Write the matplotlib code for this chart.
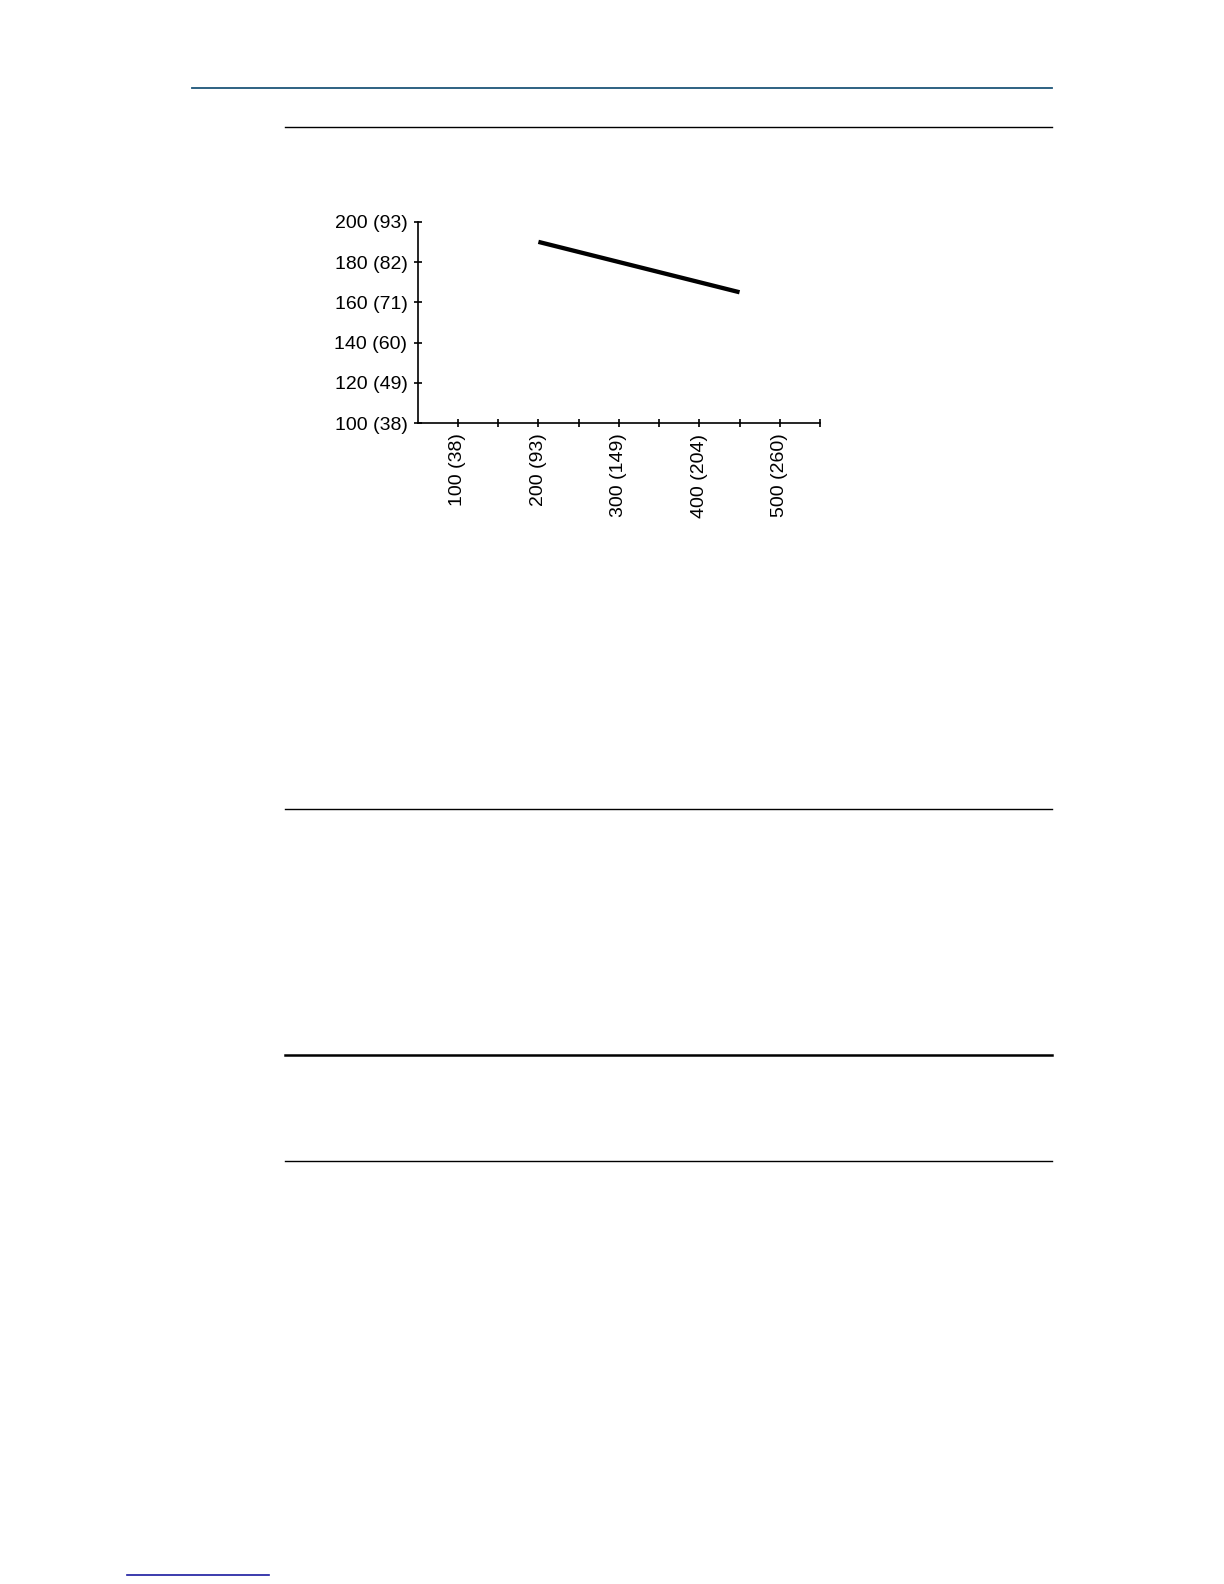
import matplotlib
matplotlib.use("Agg")
import matplotlib.pyplot as plt
from matplotlib.lines import Line2D

plt.rcParams['font.family'] = ['Liberation Sans', 'DejaVu Sans']

# data (deg F with deg C in brackets)
x_vals = [200, 450]
y_vals = [190, 165]
xticks = [100, 200, 300, 400, 500]
xtick_labels = ["100 (38)", "200 (93)", "300 (149)", "400 (204)", "500 (260)"]
xminor = [150, 250, 350, 450, 550]
yticks = [100, 120, 140, 160, 180, 200]
ytick_labels = ["100 (38)", "120 (49)", "140 (60)", "160 (71)", "180 (82)", "200 (93)"]

W, H = 1224, 1584
fig = plt.figure(figsize=(W/100, H/100), dpi=100)

# axes box placed in pixel coords of the page
x0, x1 = 417.7, 820.0
y0, y1 = 221.7, 423.3
ax = fig.add_axes([x0/W, 1 - y1/H, (x1 - x0)/W, (y1 - y0)/H])
ax.plot(x_vals, y_vals, color='black', lw=3.1, solid_capstyle='butt')
ax.set_xlim(50, 550)
ax.set_ylim(100, 200)
for s in ['top', 'right']:
    ax.spines[s].set_visible(False)
for s in ['left', 'bottom']:
    ax.spines[s].set_linewidth(1.2)
ax.set_xticks(xticks)
ax.set_xticklabels(xtick_labels, rotation=90)
ax.set_xticks(xminor, minor=True)
ax.set_yticks(yticks)
ax.set_yticklabels(ytick_labels)
ax.tick_params(axis='both', which='both', direction='inout', length=6.2, width=1.2,
               labelsize=14, pad=4.3, colors='black')

# page rules
def hline(y, xa, xb, lw, color='black'):
    fig.add_artist(Line2D([xa/W, xb/W], [1 - y/H, 1 - y/H], color=color, lw=lw))

hline(88, 192, 1052, 1.3, '#1d5578')
hline(126.5, 285, 1052, 1.0)
hline(809, 285, 1052, 1.0)
hline(1055, 285, 1052, 1.8)
hline(1160.5, 285, 1052, 1.0)
hline(1575, 127, 269, 1.2, '#1a1aa0')

fig.savefig("out.png", dpi=100)
